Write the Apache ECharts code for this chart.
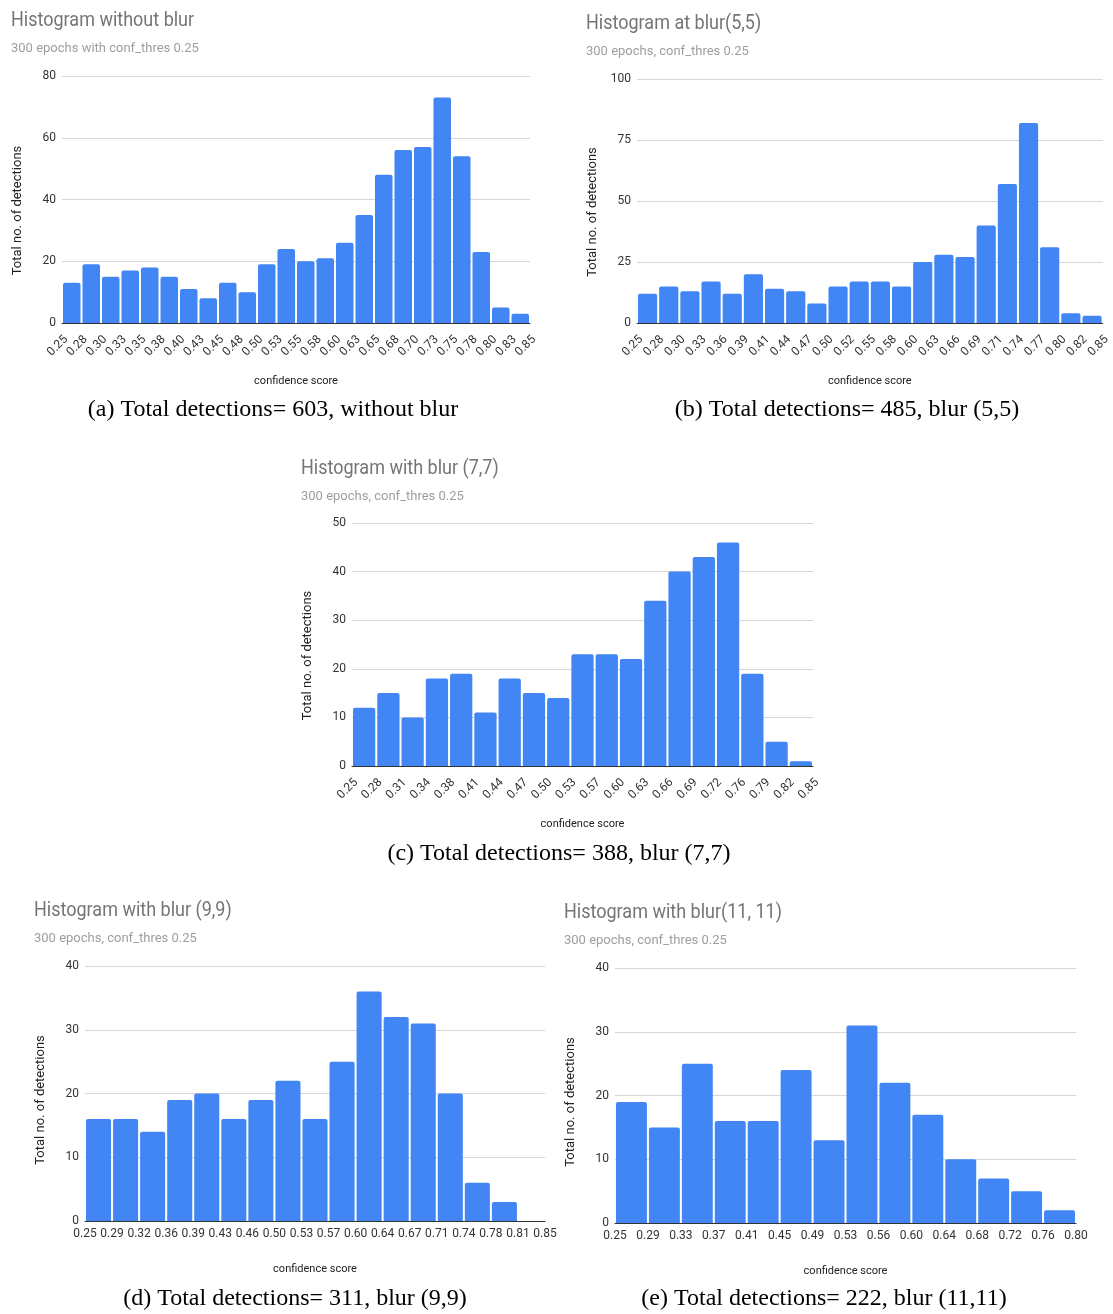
<!DOCTYPE html>
<html><head><meta charset="utf-8">
<script src="https://cdn.jsdelivr.net/npm/echarts@6/dist/echarts.min.js"></script>
<style>html,body{margin:0;padding:0;background:#fff}#c{width:1113px;height:1314px}</style>
</head><body><div id="c"></div>
<script>
// ---- data ----
const titles = ['Histogram without blur', 'Histogram at blur(5,5)', 'Histogram with blur (7,7)', 'Histogram with blur (9,9)', 'Histogram with blur(11, 11)'];
const subtitles = ['300 epochs with conf_thres 0.25', '300 epochs, conf_thres 0.25', '300 epochs, conf_thres 0.25', '300 epochs, conf_thres 0.25', '300 epochs, conf_thres 0.25'];
const captions = ['(a) Total detections= 603, without blur', '(b) Total detections= 485, blur (5,5)', '(c) Total detections= 388, blur (7,7)', '(d) Total detections= 311, blur (9,9)', '(e) Total detections= 222, blur (11,11)'];
const xName = 'confidence score';
const yName = 'Total no. of detections';

const edgesA = ['0.25','0.28','0.30','0.33','0.35','0.38','0.40','0.43','0.45','0.48','0.50','0.53','0.55','0.58','0.60','0.63','0.65','0.68','0.70','0.73','0.75','0.78','0.80','0.83','0.85'];
const countsA = [13,19,15,17,18,15,11,8,13,10,19,24,20,21,26,35,48,56,57,73,54,23,5,3];
const yTicksA = [0, 80, 20];

const edgesB = ['0.25','0.28','0.30','0.33','0.36','0.39','0.41','0.44','0.47','0.50','0.52','0.55','0.58','0.60','0.63','0.66','0.69','0.71','0.74','0.77','0.80','0.82','0.85'];
const countsB = [12,15,13,17,12,20,14,13,8,15,17,17,15,25,28,27,40,57,82,31,4,3];
const yTicksB = [0, 100, 25];

const edgesC = ['0.25','0.28','0.31','0.34','0.38','0.41','0.44','0.47','0.50','0.53','0.57','0.60','0.63','0.66','0.69','0.72','0.76','0.79','0.82','0.85'];
const countsC = [12,15,10,18,19,11,18,15,14,23,23,22,34,40,43,46,19,5,1];
const yTicksC = [0, 50, 10];

const edgesD = ['0.25','0.29','0.32','0.36','0.39','0.43','0.46','0.50','0.53','0.57','0.60','0.64','0.67','0.71','0.74','0.78','0.81','0.85'];
const countsD = [16,16,14,19,20,16,19,22,16,25,36,32,31,20,6,3,0];
const yTicksD = [0, 40, 10];

const edgesE = ['0.25','0.29','0.33','0.37','0.41','0.45','0.49','0.53','0.56','0.60','0.64','0.68','0.72','0.76','0.80'];
const countsE = [19,15,25,16,16,24,13,31,22,17,10,7,5,2];
const yTicksE = [0, 40, 10];

// ---- layout (pixels) ----
const layouts = [
  {gl: 62,  gt: 76,  gw: 468, gh: 247, tx: 11,  ty: 21,  sy: 42,  rot: 45, yPad: 22, capX: 273, capY: 410},
  {gl: 637, gt: 79,  gw: 469, gh: 244, tx: 586, ty: 24,  sy: 45,  rot: 45, yPad: 22, capX: 847, capY: 410},
  {gl: 352, gt: 523, gw: 461, gh: 243, tx: 301, ty: 469, sy: 490, rot: 45, yPad: 22, capX: 559, capY: 854},
  {gl: 85,  gt: 966, gw: 460, gh: 255, tx: 34,  ty: 911, sy: 932, rot: 0,  yPad: 13, capX: 295, capY: 1299},
  {gl: 615, gt: 968, gw: 461, gh: 255, tx: 564, ty: 913, sy: 934, rot: 0,  yPad: 13, capX: 824, capY: 1299}
];
const allEdges = [edgesA, edgesB, edgesC, edgesD, edgesE];
const allCounts = [countsA, countsB, countsC, countsD, countsE];
const allY = [yTicksA, yTicksB, yTicksC, yTicksD, yTicksE];

const option = {
  animation: false,
  backgroundColor: '#ffffff',
  title: [], grid: [], xAxis: [], yAxis: [], series: [], graphic: []
};

layouts.forEach((L, i) => {
  const edges = allEdges[i], counts = allCounts[i], yt = allY[i];
  // chart title (slightly condensed like the source)
  option.graphic.push({type: 'text', x: L.tx, y: L.ty, scaleX: 0.9,
    style: {text: titles[i], font: '20px Roboto', fill: '#757575',
      align: 'left', verticalAlign: 'middle', textAlign: 'left', textVerticalAlign: 'middle'}});
  option.title.push({text: subtitles[i], left: L.tx, top: L.sy, padding: 0,
    textStyle: {fontFamily: 'Roboto', fontSize: 13, fontWeight: 'normal', color: '#9e9e9e'}});
  option.grid.push({left: L.gl, top: L.gt, width: L.gw, height: L.gh, containLabel: false});
  // bar axis (bins)
  option.xAxis.push({type: 'category', gridIndex: i, data: counts.map((_, k) => k),
    boundaryGap: true, axisLine: {show: false}, axisTick: {show: false}, axisLabel: {show: false}, splitLine: {show: false}});
  // edge label axis
  const labelCfg = L.rot
    ? {interval: 0, rotate: L.rot, align: 'center', verticalAlign: 'bottom', margin: 27, fontFamily: 'Roboto', fontSize: 12, color: '#333'}
    : {interval: 0, rotate: 0, margin: 7, fontFamily: 'Roboto', fontSize: 12, color: '#333'};
  option.xAxis.push({type: 'category', gridIndex: i, data: edges, boundaryGap: false, position: 'bottom',
    name: xName, nameLocation: 'middle', nameGap: L.rot ? 53 : 43,
    nameTextStyle: {fontFamily: 'Roboto', fontSize: 11, color: '#222'},
    axisLine: {show: true, lineStyle: {color: '#333', width: 1}}, axisTick: {show: false},
    axisLabel: labelCfg, splitLine: {show: false}});
  option.yAxis.push({type: 'value', gridIndex: i, min: yt[0], max: yt[1], interval: yt[2],
    name: yName, nameLocation: 'middle', nameGap: 38,
    nameTextStyle: {fontFamily: 'Roboto', fontSize: 13, color: '#222', padding: [0, L.yPad, 0, 0]},
    axisLine: {show: false}, axisTick: {show: false},
    axisLabel: {margin: 6, fontFamily: 'Roboto', fontSize: 12, color: '#333'},
    splitLine: {lineStyle: {color: '#d6d6d6', width: 1}}});
  option.series.push({type: 'bar', xAxisIndex: 2 * i, yAxisIndex: i, data: counts,
    barCategoryGap: 2, itemStyle: {color: '#4285F4', borderRadius: [2, 2, 0, 0]}, z: 3});
  option.graphic.push({type: 'text', x: L.capX, y: L.capY,
    style: {text: captions[i], font: '24px "Liberation Serif", "Times New Roman", serif', fill: '#000',
      align: 'center', verticalAlign: 'middle', textAlign: 'center', textVerticalAlign: 'middle'}});
});

const chart = echarts.init(document.getElementById('c'), null, {renderer: 'canvas'});
chart.setOption(option);
</script>
</body></html>
